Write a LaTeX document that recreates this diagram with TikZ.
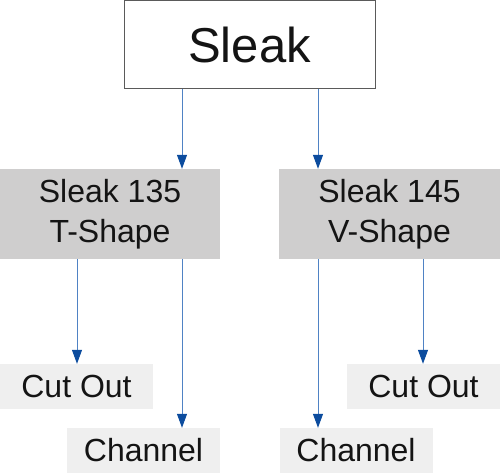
\documentclass[tikz,border=0pt]{standalone}
\usepackage{fontspec}
\setmainfont{Liberation Sans}
\usetikzlibrary{positioning, arrows.meta}
\definecolor{frame}{HTML}{5A5A5A}
\definecolor{midgray}{HTML}{CFCECE}
\definecolor{lightgray}{HTML}{EFEFEF}
\definecolor{line}{HTML}{4F82C4}
\definecolor{tip}{HTML}{0C4C9E}
\definecolor{txt}{HTML}{141414}

\begin{document}
\begin{tikzpicture}[x=1pt, y=-1pt]
\tikzset{Root/.style={shape=rectangle, draw=frame, line width=1pt, fill=white, inner sep=0pt, minimum width=251pt, minimum height=88pt, text=txt, font=\fontsize{49}{59}\selectfont}}
\tikzset{Kind/.style={shape=rectangle, fill=midgray, inner sep=0pt, minimum width=220pt, minimum height=90pt, align=center, text=txt, font=\fontsize{32}{40}\selectfont}}
\tikzset{Leaf/.style={shape=rectangle, fill=lightgray, inner sep=0pt, minimum width=153pt, minimum height=45pt, text=txt, font=\fontsize{32}{40}\selectfont}}
\tikzset{Feed/.style={draw=line, line width=1pt, -{Triangle[width=10pt, length=14pt, color=tip]}}}

\useasboundingbox (0,0) rectangle (500,473);

% nodes
\node[Root] (sleak) at (249.5, 45) {Sleak};

\node[Kind] (t135) at (110, 214) {Sleak 135\\T-Shape};
\node[Kind, minimum width=221pt] (v145) at (389.5, 214) {Sleak 145\\V-Shape};

\node[Leaf] (cut1) at (76.5, 386.5) {Cut Out};
\node[Leaf] (chan1) at (143.5, 450.5) {Channel};
\node[Leaf] (chan2) at (356, 450.5) {Channel};
\node[Leaf] (cut2) at (423.5, 386.5) {Cut Out};

% columns for the arrows
\coordinate (colA) at (77, 0);
\coordinate (colB) at (182, 0);
\coordinate (colC) at (318, 0);
\coordinate (colD) at (423, 0);

% arrows
\draw[Feed] (sleak.south -| colB) -- (t135.north -| colB);
\draw[Feed] (sleak.south -| colC) -- (v145.north -| colC);
\draw[Feed] (t135.south -| colA) -- (cut1.north -| colA);
\draw[Feed] (t135.south -| colB) -- (chan1.north -| colB);
\draw[Feed] (v145.south -| colC) -- (chan2.north -| colC);
\draw[Feed] (v145.south -| colD) -- (cut2.north -| colD);
\end{tikzpicture}
\end{document}
